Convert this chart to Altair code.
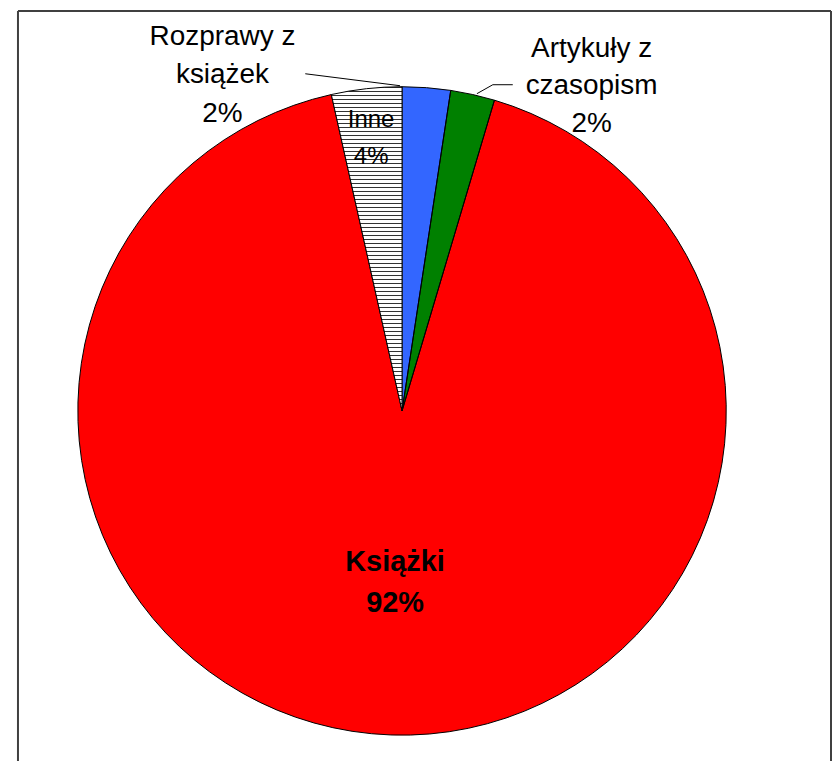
import altair as alt
import pandas as pd

# ---- data ----
categories = ["Rozprawy z książek", "Artykuły z czasopism", "Książki", "Inne"]
values = [2.4, 2.2, 91.9, 3.5]
slice_order = [0, 1, 2, 3]
slice_colors = ["#3366FF", "#008000", "#FF0000", "#FFFFFF"]
label_texts = ["Rozprawy z\nksiążek\n2%", "Artykuły z\nczasopism\n2%", "Inne\n4%", "Książki\n92%"]

df = pd.DataFrame({"cat": categories, "value": values, "ord": slice_order})

# ---- layout (pixels inside the view) ----
W, H = 815, 752
CX, CY, R = 385, 401, 325
FONT = "Liberation Sans"

# horizontal hatch pattern as a striped linear gradient
N = 81
stops = []
for i in range(N):
    a = i / N
    w = 1.0 / 325
    stops += [
        {"offset": a, "color": "#333333"},
        {"offset": min(a + w, 1), "color": "#333333"},
        {"offset": min(a + w, 1), "color": "#FFFFFF"},
        {"offset": min((i + 1) / N, 1), "color": "#FFFFFF"},
    ]
hatch_fill = {"gradient": "linear", "x1": 0, "y1": 0, "x2": 0, "y2": 1, "stops": stops}

base = alt.Chart(df).encode(
    theta=alt.Theta("value:Q", stack=True),
    order=alt.Order("ord:Q"),
    x=alt.value(CX),
    y=alt.value(CY),
)

pie = base.mark_arc(radius=R, strokeWidth=0).encode(
    color=alt.Color("cat:N", scale=alt.Scale(domain=categories, range=slice_colors), legend=None)
)

hatch = base.mark_arc(radius=R, stroke="black", strokeWidth=1).encode(
    fill=alt.condition("datum.cat == 'Inne'", alt.value(hatch_fill), alt.value("transparent"))
)


def text_layer(txt, x, y, size, lh, bold=False):
    return alt.Chart(pd.DataFrame({"t": [txt]})).mark_text(
        lineBreak="\n", font=FONT, fontSize=size, lineHeight=lh,
        fontWeight="bold" if bold else "normal", color="black",
        align="center", baseline="alphabetic",
    ).encode(text="t:N", x=alt.value(x), y=alt.value(y))


def rule(x, y, x2, y2, color="black", width=1):
    return alt.Chart(pd.DataFrame({"k": [0]})).mark_rule(color=color, strokeWidth=width).encode(
        x=alt.value(x), y=alt.value(y), x2=alt.value(x2), y2=alt.value(y2)
    )


labels = [
    text_layer(label_texts[0], 205, 34, 28, 38.5),
    text_layer(label_texts[1], 575, 46, 28, 37.5),
    text_layer(label_texts[2], 354, 116, 24, 37),
    text_layer(label_texts[3], 378, 561, 29, 42, bold=True),
]

leaders = [
    rule(288, 63, 383, 75),
    rule(460, 83, 476, 74),
    rule(476, 74, 496, 74),
]

frame = [
    rule(0, 0, W, 0, "#404040", 2),
    rule(0, 0, 0, H, "#404040", 2),
    rule(W, 0, W, H, "#404040", 2),
]

chart = alt.layer(pie, hatch, *leaders, *labels, *frame).properties(
    width=W, height=H,
    padding={"left": 9, "top": 1, "right": 0, "bottom": 0},
    background="white",
).configure_view(stroke=None)

chart.save("out.html", embed_options={"renderer": "svg", "actions": False})
